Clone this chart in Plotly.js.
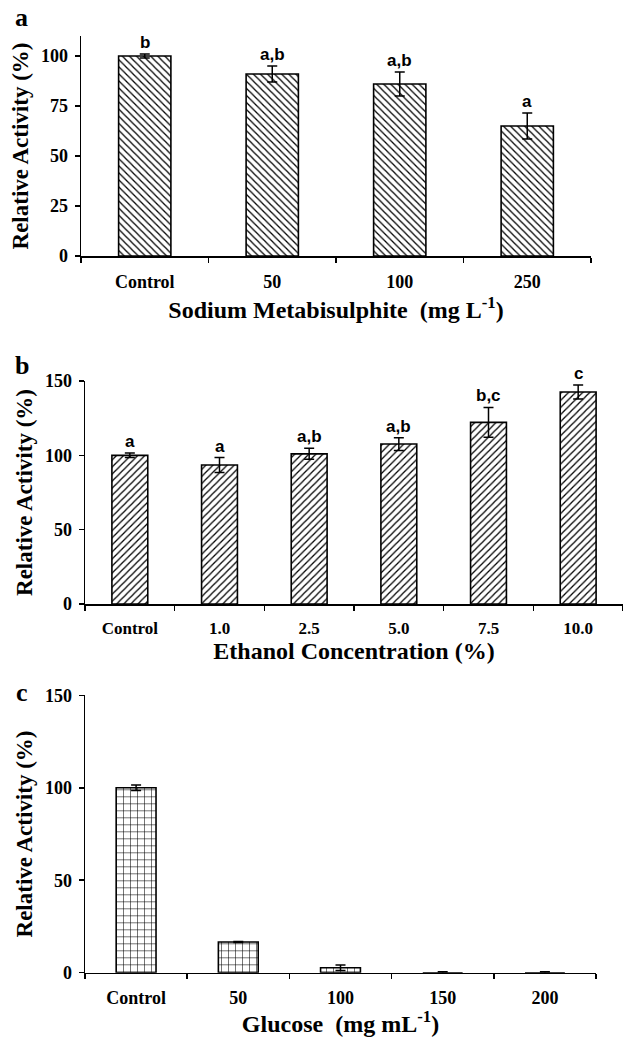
<!DOCTYPE html>
<html><head><meta charset="utf-8">
<script src="https://cdn.plot.ly/plotly-3.0.1.min.js"></script>
<style>html,body{margin:0;padding:0;background:#fff;}#chart{width:623px;height:1037px;}</style>
</head><body><div id="chart"></div>
<script>
// Panel a: Sodium metabisulphite
const catsA = ['Control', '50', '100', '250'];
const valsA = [100, 91, 86, 65];
const errA = [1, 4, 6, 6.5];
const lettersA = ['b', 'a,b', 'a,b', 'a'];
// Panel b: Ethanol
const catsB = ['Control', '1.0', '2.5', '5.0', '7.5', '10.0'];
const valsB = [100, 93.5, 101, 107.6, 122.2, 142.6];
const errB = [1.5, 5, 3.7, 4.3, 10, 4.7];
const lettersB = ['a', 'a', 'a,b', 'a,b', 'b,c', 'c'];
// Panel c: Glucose
const catsC = ['Control', '50', '100', '150', '200'];
const valsC = [100, 16.6, 2.7, 0, 0];
const errC = [1.5, 0.3, 1.5, 0.5, 0.5];

const W = 623, H = 1037;
const px = x => x / W;
const py = y => 1 - y / H;

const serif = 'Liberation Serif, Times New Roman, serif';
const sans = 'Liberation Sans, Arial, sans-serif';

function barTrace(cats, vals, errs, xa, ya, shape, size, sol, width) {
  return {
    type: 'bar', x: cats, y: vals, xaxis: xa, yaxis: ya, width: width,
    marker: {color: 'white', line: {color: 'black', width: 1.6},
      pattern: {shape: shape, size: size, solidity: sol, fgcolor: 'black', bgcolor: 'white'}},
    error_y: {type: 'data', array: errs, visible: true, color: 'black', thickness: 1.5, width: 5},
    showlegend: false, hoverinfo: 'skip'
  };
}

const data = [
  barTrace(catsA, valsA, errA, 'x', 'y', '\\', 5, 0.25, 0.41),
  barTrace(catsB, valsB, errB, 'x2', 'y2', '/', 5, 0.25, 0.4),
  barTrace(catsC, valsC, errC, 'x3', 'y3', '+', 7, 0.15, 0.39)
];

const tf = s => ({family: serif, size: s, color: 'black', weight: 700});

function xAx(domain, anchor, title, nCat, tsize, lstand, tstand) {
  return {domain: domain, anchor: anchor, type: 'category', range: [-0.5, nCat - 0.5],
    showline: true, linecolor: 'black', linewidth: 1.5, ticks: 'outside', tickson: 'boundaries',
    ticklen: 5, tickwidth: 1.5, tickcolor: 'black', showgrid: false, zeroline: false,
    tickfont: tf(tsize), ticklabelstandoff: lstand,
    title: {text: title, font: tf(24), standoff: tstand}, fixedrange: true};
}
function yAx(domain, anchor, range, dtick) {
  return {domain: domain, anchor: anchor, range: range, dtick: dtick, tick0: 0,
    showline: true, linecolor: 'black', linewidth: 1.5, ticks: 'outside',
    ticklen: 5, tickwidth: 1.5, tickcolor: 'black', showgrid: false, zeroline: false,
    tickfont: tf(18), ticklabelstandoff: 3,
    title: {text: 'Relative Activity (%)', font: tf(23), standoff: 6}, fixedrange: true};
}

const annotations = [];
function letters(vals, errs, labels, xr, yr) {
  labels.forEach((t, i) => {
    annotations.push({xref: xr, yref: yr, x: i, y: vals[i] + errs[i], text: t,
      showarrow: false, yanchor: 'bottom', yshift: 0,
      font: {family: sans, size: 17, color: 'black', weight: 700}});
  });
}
letters(valsA, errA, lettersA, 'x', 'y');
letters(valsB, errB, lettersB, 'x2', 'y2');

[['a', 21, 18], ['b', 22, 365], ['c', 22, 692]].forEach(([t, x, y]) => {
  annotations.push({xref: 'paper', yref: 'paper', x: px(x), y: py(y), text: t, showarrow: false,
    xanchor: 'center', yanchor: 'middle', font: tf(26)});
});

const layout = {
  width: W, height: H, margin: {l: 0, r: 0, t: 0, b: 0},
  paper_bgcolor: 'white', plot_bgcolor: 'white', bargap: 0,
  xaxis: xAx([px(81), px(591)], 'y', 'Sodium Metabisulphite&nbsp;&nbsp;(mg L<sup>-1</sup>)', catsA.length, 18, 9, 10),
  yaxis: yAx([py(256), py(36)], 'x', [0, 110], 25),
  xaxis2: xAx([px(85), 1], 'y2', 'Ethanol Concentration (%)', catsB.length, 17, 8, 4),
  yaxis2: yAx([py(604), py(381)], 'x2', [0, 150], 50),
  xaxis3: xAx([px(85), px(596)], 'y3', 'Glucose&nbsp;&nbsp;(mg mL<sup>-1</sup>)', catsC.length, 18, 8, 8),
  yaxis3: yAx([py(972.7), py(695.3)], 'x3', [0, 150], 50),
  annotations: annotations
};

Plotly.newPlot('chart', data, layout, {staticPlot: true, displayModeBar: false});
</script></body></html>
